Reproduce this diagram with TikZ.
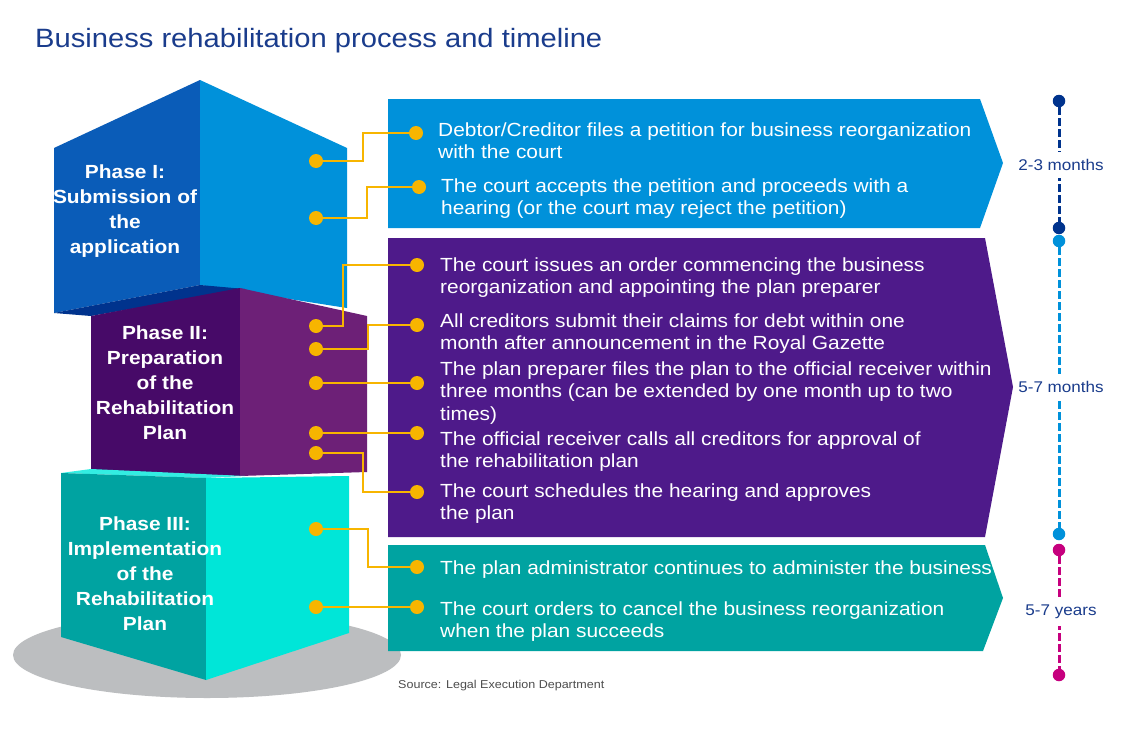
\documentclass[tikz,border=0pt]{standalone}
\usepackage{fontspec}
\setmainfont[FakeStretch=1.1]{Liberation Sans}
\usetikzlibrary{calc}
\definecolor{navy}{HTML}{00338D}
\definecolor{titleblue}{HTML}{1A3C8C}
\definecolor{cubeAleft}{HTML}{0A5CB8}
\definecolor{cubeAright}{HTML}{0091DA}
\definecolor{cubeAbot}{HTML}{00338D}
\definecolor{cubeBleft}{HTML}{470A68}
\definecolor{cubeBright}{HTML}{6D2077}
\definecolor{boxB}{HTML}{4E1A8A}
\definecolor{cubeCleft}{HTML}{00A3A1}
\definecolor{cubeCright}{HTML}{00E6D8}
\definecolor{cubeCtop}{HTML}{33EDE2}
\definecolor{boxC}{HTML}{00A3A1}
\definecolor{ylw}{HTML}{F7B500}
\definecolor{tlblue}{HTML}{0091DA}
\definecolor{tlmag}{HTML}{C6007E}
\definecolor{shadow}{HTML}{BCBEC0}
\definecolor{srcgray}{HTML}{4D4D4D}
\tikzset{
  ydot/.style={circle, fill=ylw, inner sep=0pt, minimum size=14pt},
  conn/.style={draw=ylw, line width=2.6pt},
  tdot/.style={circle, inner sep=0pt, minimum size=12.5pt},
  tline/.style={line width=3pt, dash pattern=on 7.5pt off 3.5pt},
  tlabel/.style={fill=white, inner xsep=2pt, inner ysep=7pt, text=titleblue, font=\fontsize{15.5}{18}\selectfont},
  itemtext/.style={anchor=base west, align=left, text=white, inner sep=0pt, font=\fontsize{19}{22.7}\selectfont},
  phasetext/.style={anchor=base, align=center, text=white, inner sep=0pt, font=\bfseries\fontsize{19}{25}\selectfont}
}
\begin{document}
\begin{tikzpicture}[x=1pt,y=-1pt]
\useasboundingbox (0,0) rectangle (1124,744);
\fill[white] (0,0) rectangle (1124,744);

% title
\node[anchor=base west, inner sep=0pt, text=titleblue, font=\fontsize{26.5}{30}\selectfont] (title) at (35,47) {Business rehabilitation process and timeline};

% shadow
\fill[shadow] (207,655) ellipse [x radius=194pt, y radius=43pt];

% cube 1
\fill[cubeAleft] (54,148) -- (200,80) -- (200,285) -- (54,313) -- cycle;
\fill[cubeAright] (200,80) -- (347,148) -- (347,308) -- (200,285) -- cycle;
\fill[cubeAbot] (54,313) -- (200,285) -- (245,289) -- (91,316) -- cycle;
% cube 2
\fill[cubeBleft] (91,316) -- (240,288) -- (240,476) -- (91,471) -- cycle;
\fill[cubeBright] (240,288) -- (367,316) -- (367,472) -- (240,476) -- cycle;
% cube 3
\fill[cubeCtop] (61,473) -- (91,469) -- (245,476) -- (206,478) -- cycle;
\fill[cubeCleft] (61,473) -- (206,478) -- (206,680) -- (61,637) -- cycle;
\fill[cubeCright] (206,478) -- (349,476) -- (349,633) -- (206,680) -- cycle;

% phase labels (base = last line)
\node[phasetext] (ph1) at (125,253) {Phase I:\\Submission of\\the\\application};
\node[phasetext] (ph2) at (165,439) {Phase II:\\Preparation\\of the\\Rehabilitation\\Plan};
\node[phasetext] (ph3) at (145,630) {Phase III:\\Implementation\\of the\\Rehabilitation\\Plan};

% arrow boxes
\fill[cubeAright] (388,99) -- (980,99) -- (1003,163) -- (980,228) -- (388,228) -- cycle;
\fill[boxB] (388,238) -- (985,238) -- (1013,387) -- (985,537) -- (388,537) -- cycle;
\fill[boxC] (388,545) -- (985,545) -- (1003,598) -- (983,651) -- (388,651) -- cycle;

% item texts (base = last line)
\node[itemtext] (t1) at (438,158.7) {Debtor/Creditor files a petition for business reorganization\\with the court};
\node[itemtext] (t2) at (441,214.7) {The court accepts the petition and proceeds with a\\hearing (or the court may reject the petition)};
\node[itemtext] (t3) at (440,293.7) {The court issues an order commencing the business\\reorganization and appointing the plan preparer};
\node[itemtext] (t4) at (440,349.7) {All creditors submit their claims for debt within one\\month after announcement in the Royal Gazette};
\node[itemtext] (t5) at (440,420.4) {The plan preparer files the plan to the official receiver within\\three months (can be extended by one month up to two\\times)};
\node[itemtext] (t6) at (440,467.7) {The official receiver calls all creditors for approval of\\the rehabilitation plan};
\node[itemtext] (t7) at (440,519.7) {The court schedules the hearing and approves\\the plan};
\node[itemtext] (t8) at (440,574) {The plan administrator continues to administer the business};
\node[itemtext] (t9) at (440,637.7) {The court orders to cancel the business reorganization\\when the plan succeeds};

% yellow dots
\node[ydot] (c1) at (316,161) {};
\node[ydot] (c2) at (316,218) {};
\node[ydot] (c3) at (316,326) {};
\node[ydot] (c4) at (316,349) {};
\node[ydot] (c5) at (316,383) {};
\node[ydot] (c6) at (316,433) {};
\node[ydot] (c7) at (316,453) {};
\node[ydot] (c8) at (316,529) {};
\node[ydot] (c9) at (316,607) {};
\node[ydot] (b1) at (416,133) {};
\node[ydot] (b2) at (419,187) {};
\node[ydot] (b3) at (417,265) {};
\node[ydot] (b4) at (417,325) {};
\node[ydot] (b5) at (417,383) {};
\node[ydot] (b6) at (417,433) {};
\node[ydot] (b7) at (417,492) {};
\node[ydot] (b8) at (417,567) {};
\node[ydot] (b9) at (417,607) {};

% connectors
\draw[conn] (c1) -- ++(47,0) |- (b1);
\draw[conn] (c2) -- ++(51,0) |- (b2);
\draw[conn] (c3) -- ++(27,0) |- (b3);
\draw[conn] (c4) -- ++(52,0) |- (b4);
\draw[conn] (c5) -- (b5);
\draw[conn] (c6) -- (b6);
\draw[conn] (c7) -- ++(47,0) |- (b7);
\draw[conn] (c8) -- ++(52,0) |- (b8);
\draw[conn] (c9) -- (b9);

% timeline
\node[tdot, fill=navy] (n1) at (1059,101) {};
\node[tdot, fill=navy] (n2) at (1059,228) {};
\node[tdot, fill=tlblue] (l1) at (1059,241) {};
\node[tdot, fill=tlblue] (l2) at (1059,534) {};
\node[tdot, fill=tlmag] (m1) at (1059,550) {};
\node[tdot, fill=tlmag] (m2) at (1059,675) {};
\draw[tline, navy] (n1) -- (n2);
\draw[tline, tlblue] (l1) -- (l2);
\draw[tline, tlmag] (m1) -- (m2);
\node[tlabel] (d1) at (1061,165) {2-3 months};
\node[tlabel] (d2) at (1061,387) {5-7 months};
\node[tlabel] (d3) at (1061,612) {5-7 years};

% source
\node[anchor=base west, inner sep=0pt, text=srcgray, font=\fontsize{11.4}{13}\selectfont] (src) at (398,688) {Source: Legal Execution Department};
\end{tikzpicture}
\end{document}
